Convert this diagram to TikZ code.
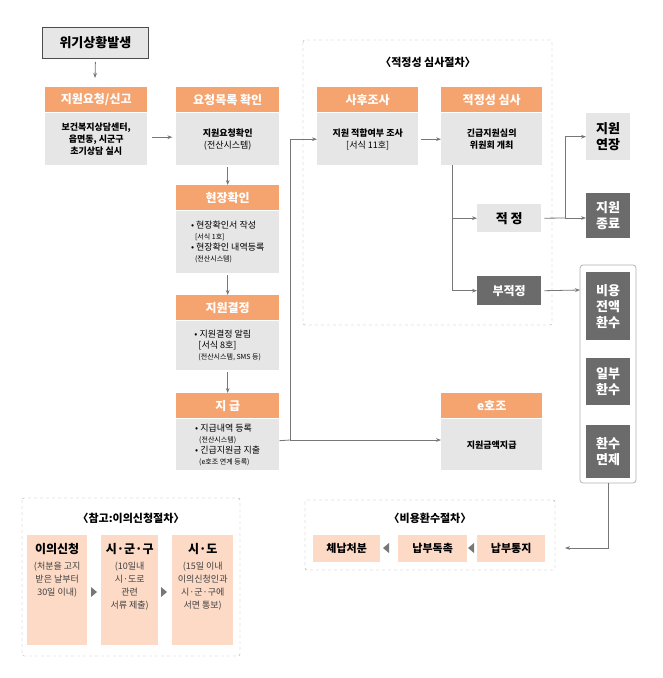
\documentclass[tikz,border=0pt]{standalone}
\usepackage{fontspec}
\setmainfont{Noto Sans CJK KR}
\usetikzlibrary{arrows.meta}
\definecolor{hdr}{HTML}{F5A36F}
\definecolor{bdy}{HTML}{E6E6E6}
\definecolor{drk}{HTML}{6B6B6B}
\definecolor{pch}{HTML}{FCDAC6}
\definecolor{lin}{HTML}{777777}
\tikzset{
    box/.style = {draw=none, inner sep=1pt, align=center, anchor=north west},
    hbox/.style = {box, fill=hdr, text=white, font=\fontsize{12}{13}\selectfont\bfseries},
    bbox/.style = {box, fill=bdy, font=\fontsize{9}{12}\selectfont\bfseries},
    dbox/.style = {box, fill=drk, text=white, font=\fontsize{13}{16}\selectfont\bfseries},
    lbox/.style = {box, fill=bdy, font=\fontsize{13}{16}\selectfont\bfseries},
    pbox/.style = {box, fill=pch, font=\fontsize{11}{13}\selectfont\bfseries},
    frame/.style = {draw=black!35, dashed, rounded corners=2pt},
    conn/.style = {draw=lin, thick, -{Stealth[length=5pt]}},
    tri/.style = {fill=lin, draw=none},
    ttl/.style = {font=\fontsize{11}{13}\selectfont\bfseries}
}
\newcommand{\sm}{\fontsize{7}{9}\selectfont\mdseries}
\begin{document}
\begin{tikzpicture}[x=1pt, y=-1pt]
\useasboundingbox (0,0) rectangle (662,678);
% frames
\draw[frame] (303,40) rectangle (552,325);
\draw[frame] (305,500) rectangle (555,570);
\draw[frame] (22,498) rectangle (240,656);
\draw[draw=black!30, thick, rounded corners=3pt, fill=white] (580,265) rectangle (636,483);
\node[ttl] (t1) at (428,62) {〈적정성 심사절차〉};
\node[ttl] (t2) at (430,518) {〈비용환수절차〉};
\node[ttl] (t3) at (131,518) {〈참고:이의신청절차〉};
% start
\node[box, fill=bdy, draw=black!70, thick, minimum width=106pt, minimum height=31pt,
      font=\fontsize{13}{15}\selectfont\bfseries] (start) at (42,27) {위기상황발생};
% left column
\node[hbox, minimum width=102pt, minimum height=25pt] (reqh) at (45,87) {지원요청/신고};
\node[bbox, minimum width=102pt, minimum height=52pt] (reqb) at (45,113) {보건복지상담센터,\\읍면동, 시군구\\초기상담 실시};
\node[hbox, minimum width=103pt, minimum height=25pt] (listh) at (176,87) {요청목록 확인};
\node[bbox, minimum width=103pt, minimum height=52pt] (listb) at (176,113) {지원요청확인\\{\mdseries (전산시스템)}};
\node[hbox, minimum width=103pt, minimum height=25pt] (siteh) at (176,185) {현장확인};
\node[bbox, minimum width=103pt, minimum height=62pt, align=left, font=\fontsize{9}{11}\selectfont] (siteb) at (176,211)
    {• 현장확인서 작성\\ \ \ {\sm [서식 1호]}\\• 현장확인 내역등록\\ \ \ {\sm (전산시스템)}};
\node[hbox, minimum width=103pt, minimum height=25pt] (decih) at (176,295) {지원결정};
\node[bbox, minimum width=103pt, minimum height=49pt, align=left, font=\fontsize{9}{11}\selectfont] (decib) at (176,321)
    {• 지원결정 알림\\ \ \ [서식 8호]\\ \ \ {\sm (전산시스템, SMS 등)}};
\node[hbox, minimum width=103pt, minimum height=25pt] (payh) at (176,393) {지 급};
\node[bbox, minimum width=103pt, minimum height=51pt, align=left, font=\fontsize{9}{11}\selectfont] (payb) at (176,419)
    {• 지급내역 등록\\ \ \ {\sm (전산시스템)}\\• 긴급지원금 지출\\ \ \ {\sm (e호조 연계 등록)}};
% review
\node[hbox, minimum width=101pt, minimum height=25pt] (posth) at (317,87) {사후조사};
\node[bbox, minimum width=101pt, minimum height=52pt] (postb) at (317,113) {지원 적합여부 조사\\{\mdseries [서식 11호]}};
\node[hbox, minimum width=101pt, minimum height=25pt] (revh) at (441,87) {적정성 심사};
\node[bbox, minimum width=101pt, minimum height=52pt] (revb) at (441,113) {긴급지원심의\\위원회 개최};
\node[lbox, minimum width=64pt, minimum height=28pt] (ok) at (477,204) {적 정};
\node[dbox, minimum width=64pt, minimum height=29pt, font=\fontsize{12}{14}\selectfont\bfseries] (nok) at (477,276) {부적정};
\node[lbox, minimum width=44pt, minimum height=47pt] (ext) at (586,113) {지원\\연장};
\node[dbox, minimum width=44pt, minimum height=45pt] (end) at (586,193) {지원\\종료};
\node[dbox, minimum width=44pt, minimum height=68pt] (full) at (586,272) {비용\\전액\\환수};
\node[dbox, minimum width=44pt, minimum height=47pt] (part) at (586,358) {일부\\환수};
\node[dbox, minimum width=44pt, minimum height=53pt] (free) at (586,425) {환수\\면제};
\node[hbox, minimum width=101pt, minimum height=25pt] (eh) at (441,393) {e호조};
\node[bbox, minimum width=101pt, minimum height=51pt] (eb) at (441,419) {지원금액지급};
% recovery
\node[pbox, minimum width=67pt, minimum height=27pt] (seize) at (313,535) {체납처분};
\node[pbox, minimum width=69pt, minimum height=27pt] (urge) at (398,535) {납부독촉};
\node[pbox, minimum width=68pt, minimum height=27pt] (notice) at (477,535) {납부통지};
\fill[tri] (383,548) -- (389,543) -- (389,553) -- cycle;
\fill[tri] (468,548) -- (474,543) -- (474,553) -- cycle;
% objection
\node[pbox, minimum width=60pt, minimum height=110pt] (obj) at (27,535) {};
\node[pbox, minimum width=57pt, minimum height=110pt] (sgg) at (101,535) {};
\node[pbox, minimum width=61pt, minimum height=110pt] (sido) at (172,535) {};
\node[font=\fontsize{12}{14}\selectfont\bfseries, anchor=north] (objt) at (obj.north) [yshift=-5pt] {이의신청};
\node[font=\fontsize{9}{13}\selectfont, align=center, anchor=north, text=black!75] (objd) at (objt.south) {(처분을 고지\\받은 날부터\\30일 이내)};
\node[font=\fontsize{12}{14}\selectfont\bfseries, anchor=north] (sggt) at (sgg.north) [yshift=-5pt] {시·군·구};
\node[font=\fontsize{9}{13}\selectfont, align=center, anchor=north, text=black!75] (sggd) at (sggt.south) {(10일내\\시·도로\\관련\\서류 제출)};
\node[font=\fontsize{12}{14}\selectfont\bfseries, anchor=north] (sidot) at (sido.north) [yshift=-5pt] {시·도};
\node[font=\fontsize{9}{13}\selectfont, align=center, anchor=north, text=black!75] (sidod) at (sidot.south) {(15일 이내\\이의신청인과\\시·군·구에\\서면 통보)};
\fill[tri] (167,592) -- (161,587) -- (161,597) -- cycle;
\fill[tri] (97,592) -- (91,587) -- (91,597) -- cycle;
% connectors
\coordinate (j1) at (290,440);
\coordinate (j2) at (452,165);
\coordinate (j3) at (565,218);
\coordinate (j4) at (565,548);
\draw[conn] (start.south) ++(0,3) -- (95,78);
\draw[conn] (reqb.east) ++(5,-2) -- ++(20,0);
\draw[conn] (listb.south) ++(0,2) -- (siteh.north);
\draw[conn] (siteb.south) ++(0,2) -- (decih.north);
\draw[conn] (decib.south) ++(0,2) -- (payh.north);
\draw[draw=lin, thick] (payb.east) ++(0,-4) -- (j1);
\draw[conn] (j1) |- (postb.west);
\draw[conn] (j1) -- (eb.west |- j1);
\draw[conn] (postb.east) ++(3,0) -- (revb.west);
\draw[conn] (j2) |- (ok.west);
\draw[conn] (j2) |- (nok.west);
\draw[draw=lin, thick] (ok.east) ++(3,0) -- (j3);
\draw[conn] (j3) |- (ext.west);
\draw[conn] (j3) -- (end.west |- j3);
\draw[conn] (nok.east) ++(3,0) -- (580,290);
\draw[conn] (608,483) |- (j4);
\end{tikzpicture}
\end{document}
